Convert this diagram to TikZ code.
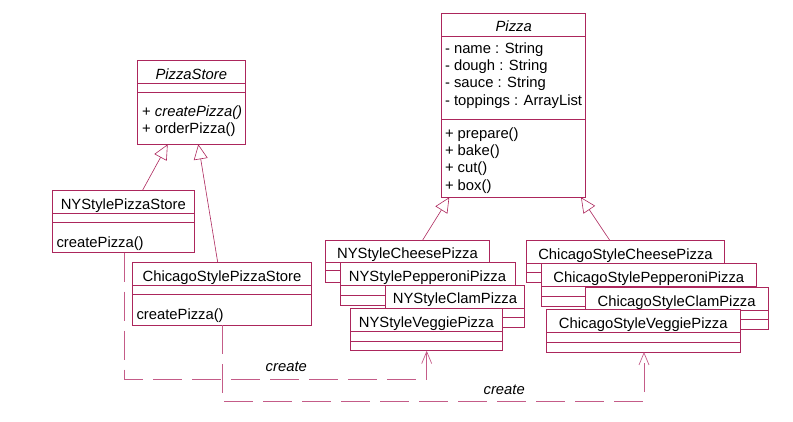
\documentclass[tikz,border=0pt]{standalone}
\usepackage{fontspec}
\setmainfont{Liberation Sans}
\usetikzlibrary{arrows.meta}
\definecolor{uml}{RGB}{172,38,92}
\definecolor{umldash}{RGB}{196,92,136}
\tikzset{
  cls/.style={draw=uml, line width=0.8pt, fill=white, rectangle, inner sep=0pt, outer sep=0pt, anchor=north west},
  div/.style={draw=uml, line width=0.5pt},
  lbl/.style={inner sep=0pt, outer sep=0pt, font=\fontsize{14.8}{17}\selectfont, text=black},
  gen/.style={draw=uml, line width=0.6pt, -{Triangle[open, length=15pt, width=14pt, line width=0.6pt]}},
  dep/.style={draw=umldash, line width=0.7pt, dash pattern=on 29pt off 10pt, -{Straight Barb[length=12pt, width=10pt, line width=0.7pt]}},
}
% name, x1, y1, x2, y2, divider1, divider2
\newcommand\umlbox[7]{%
  \node[cls, minimum width={(#4-#2)*1pt}, minimum height={(#5-#3)*1pt}] (#1) at (#2,#3) {};
  \draw[div] (#2,#6) -- (#4,#6);
  \draw[div] (#2,#7) -- (#4,#7);
}
\begin{document}
\begin{tikzpicture}[x=1pt, y=-1pt]
\useasboundingbox (0,0) rectangle (793,421);

% PizzaStore
\umlbox{ps}{137.7}{60.7}{245}{144.3}{83.3}{92.3}
\node[lbl, anchor=base] (psname) at (191.3,79.3) {\itshape PizzaStore};
\node[lbl, anchor=base west] (psm1) at (142.2,116.7) {+ \itshape createPizza()};
\node[lbl, anchor=base west] (psm2) at (142.2,133.5) {+ orderPizza()};

% NYStylePizzaStore
\umlbox{nyps}{52.3}{190}{194.3}{252.7}{213.3}{222.3}
\node[lbl, anchor=base] (nypsname) at (123.3,209.3) {NYStylePizzaStore};
\node[lbl, anchor=base west] (nypsm) at (56.5,247.3) {createPizza()};

% ChicagoStylePizzaStore
\umlbox{chps}{132.3}{262.3}{311.7}{325}{285}{294.3}
\node[lbl, anchor=base] (chpsname) at (222,281) {ChicagoStylePizzaStore};
\node[lbl, anchor=base west] (chpsm) at (136.5,319.3) {createPizza()};

% Pizza
\umlbox{pz}{441.7}{13.3}{585.7}{197.3}{36.7}{119.3}
\node[lbl, anchor=base] (pzname) at (513.7,31.7) {\itshape Pizza};
\node[lbl, anchor=base west] (pza1) at (445,53.3) {- name : String};
\node[lbl, anchor=base west] (pza2) at (445,70.7) {- dough : String};
\node[lbl, anchor=base west] (pza3) at (445,87.7) {- sauce : String};
\node[lbl, anchor=base west] (pza4) at (445,105) {- toppings : ArrayList};
\node[lbl, anchor=base west] (pzm1) at (445,138.3) {+ prepare()};
\node[lbl, anchor=base west] (pzm2) at (445,155.7) {+ bake()};
\node[lbl, anchor=base west] (pzm3) at (445,172.7) {+ cut()};
\node[lbl, anchor=base west] (pzm4) at (445,190) {+ box()};

% NY pizzas
\umlbox{nyc}{325.7}{240}{489.3}{282.3}{262.3}{270.7}
\node[lbl, anchor=base] (nycname) at (407.5,258.3) {NYStyleCheesePizza};
\umlbox{nyp}{340}{262.3}{515}{305.7}{285.6}{295.2}
\node[lbl, anchor=base] (nypname) at (427.5,281) {NYStylePepperoniPizza};
\umlbox{nyl}{385.7}{285}{524.3}{327.3}{308.3}{317.3}
\node[lbl, anchor=base] (nylname) at (455,303.5) {NYStyleClamPizza};
\umlbox{nyv}{350}{308.3}{502.7}{350.7}{331.7}{341}
\node[lbl, anchor=base] (nyvname) at (426.3,327) {NYStyleVeggiePizza};

% Chicago pizzas
\umlbox{chc}{526.7}{240.7}{724.3}{282.7}{263.3}{272.3}
\node[lbl, anchor=base] (chcname) at (625.5,259) {ChicagoStyleCheesePizza};
\umlbox{chp}{541}{263.3}{756.7}{306}{286.5}{296}
\node[lbl, anchor=base] (chpname) at (648.8,282) {ChicagoStylePepperoniPizza};
\umlbox{chl}{585}{287.3}{768.3}{329.3}{310}{319.5}
\node[lbl, anchor=base] (chlname) at (676.6,306) {ChicagoStyleClamPizza};
\umlbox{chv}{546.7}{309.3}{740}{352}{332.5}{342}
\node[lbl, anchor=base] (chvname) at (643.3,328) {ChicagoStyleVeggiePizza};

% generalizations
\draw[gen] ([xshift=90.4pt]nyps.north west) -- ([xshift=30pt]ps.south west);
\draw[gen] ([xshift=85.4pt]chps.north west) -- ([xshift=60.6pt]ps.south west);
\draw[gen] ([xshift=97pt]nyc.north west) -- ([xshift=7.6pt]pz.south west);
\draw[gen] ([xshift=83.3pt]chc.north west) -- ([xshift=139.3pt]pz.south west);

% dependencies
\coordinate (nycorner) at (124,379.3);
\coordinate (chcorner) at (222,401);
\draw[dep] ([xshift=71.7pt]nyps.south west) -- (nycorner) -| ([xshift=76.7pt]nyv.south west);
\draw[dep] ([xshift=89.7pt]chps.south west) -- (chcorner) -| ([xshift=97.3pt]chv.south west);
\node[lbl, anchor=base] (create1) at (286.3,371.7) {\itshape create};
\node[lbl, anchor=base] (create2) at (504.2,394.3) {\itshape create};
\end{tikzpicture}
\end{document}
